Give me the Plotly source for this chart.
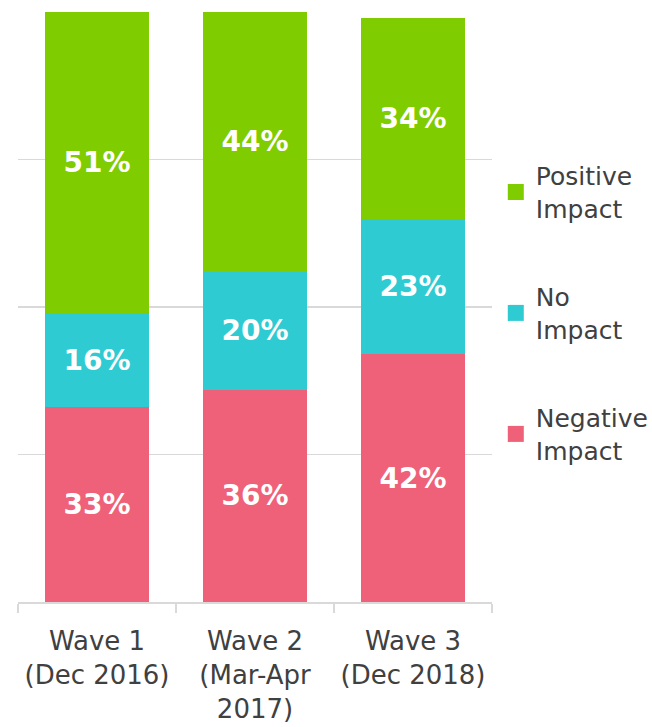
import plotly.graph_objects as go

categories = ["Wave 1<br>(Dec 2016)", "Wave 2<br>(Mar-Apr<br>2017)", "Wave 3<br>(Dec 2018)"]
negative = [33, 36, 42]
no_impact = [16, 20, 23]
positive = [51, 44, 34]

series = [
    ("Negative<br>Impact", negative, "#ef6079", 3),
    ("No<br>Impact", no_impact, "#2ecbd3", 2),
    ("Positive<br>Impact", positive, "#7fcc00", 1),
]

FONT = "DejaVu Sans"
fig = go.Figure()
for i, (name, vals, color, rank) in enumerate(series):
    fig.add_trace(go.Bar(
        x=categories, y=vals, name=name, marker_color=color,
        marker_line_width=0, width=0.66,
        text=[f"{v}%" for v in vals], textposition="inside",
        insidetextanchor="middle", textangle=0,
        textfont=dict(family=FONT, size=28, color="white", weight="bold"),
        showlegend=False, hoverinfo="skip",
    ))
    # legend proxy with a larger square swatch
    fig.add_trace(go.Scatter(
        x=[None], y=[None], mode="markers", name=name,
        marker=dict(symbol="square", size=16, color=color),
        legendgroup=f"g{i}", legendrank=rank, hoverinfo="skip",
    ))

fig.update_layout(
    barmode="stack",
    width=652, height=727,
    margin=dict(l=18, r=160, t=12, b=125, autoexpand=False),
    plot_bgcolor="white", paper_bgcolor="white",
    font=dict(family=FONT, size=26, color="#404040"),
    hovermode=False,
    showlegend=True,
    legend=dict(
        x=1.008, xanchor="left", y=0.49, yanchor="middle",
        traceorder="grouped", tracegroupgap=53,
        font=dict(family=FONT, size=25, color="#404040"),
        itemwidth=30,
    ),
)
fig.update_yaxes(range=[0, 100], dtick=25, showgrid=True, gridcolor="#d9d9d9",
                 gridwidth=1.5, showticklabels=False, zeroline=False, showline=False)
fig.update_xaxes(showline=True, linecolor="#d9d9d9", linewidth=2,
                 ticks="outside", tickson="boundaries", ticklen=9, tickcolor="#d9d9d9",
                 tickwidth=2, tickfont=dict(family=FONT, size=26, color="#404040"),
                 ticklabelstandoff=15)

# remove the default 8px page margin so the 652x727 figure fills the window exactly
fig.write_html("out.html", config={"displayModeBar": False, "staticPlot": True},
               post_script="document.body.style.margin='0';document.body.style.overflow='hidden';")
